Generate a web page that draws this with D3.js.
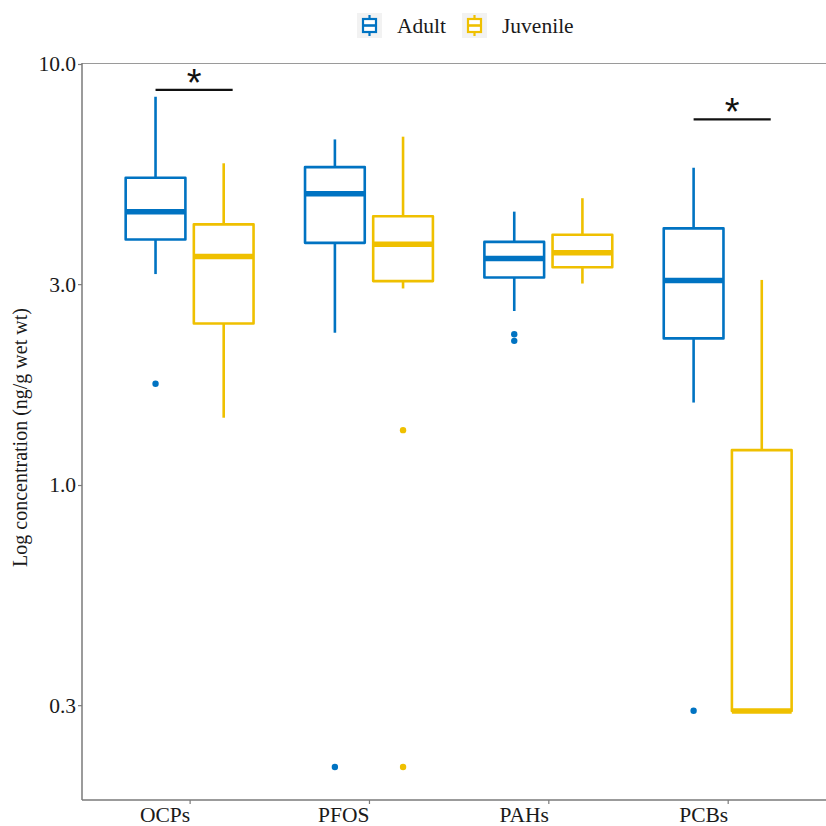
<!DOCTYPE html>
<html>
<head>
<meta charset="utf-8">
<script src="https://cdn.jsdelivr.net/npm/d3@7"></script>
<style>
  html, body { margin: 0; padding: 0; background: #fff; }
  svg { display: block; }
</style>
</head>
<body>
<svg id="chart" width="826" height="826"></svg>
<script>
// ---- data ----
const categories = ["OCPs", "PFOS", "PAHs", "PCBs"];
const groups = ["Adult", "Juvenile"];
const groupColors = ["#0073C2", "#EFC000"];
// box statistics per category: [lowerWhisker, Q1, median, Q3, upperWhisker]
const adultStats = [
  [3.17, 3.83, 4.46, 5.37, 8.36],
  [2.30, 3.76, 4.92, 5.69, 6.62],
  [2.59, 3.11, 3.45, 3.78, 4.46],
  [1.57, 2.23, 3.06, 4.07, 5.67]
];
const juvenileStats = [
  [1.445, 2.42, 3.49, 4.16, 5.81],
  [2.93, 3.05, 3.73, 4.35, 6.72],
  [3.01, 3.29, 3.56, 3.93, 4.80],
  [0.2905, 0.2905, 0.2905, 1.21, 3.07]
];
const adultOutliers = [[1.74], [0.214], [2.28, 2.20], [0.291]];
const juvenileOutliers = [[], [1.35, 0.214], [], []];
const sigCategories = ["OCPs", "PCBs"];
const sigHeights = [8.68, 7.39];
const sigLabels = ["*", "*"];
const yTicks = [0.3, 1.0, 3.0, 10.0];
const yTitle = "Log concentration (ng/g wet wt)";

// ---- layout ----
const svg = d3.select("#chart");
const mLeft = 82, mBottom = 800, mTop = 64, rightEdge = 835.3;
const x = d3.scaleLinear().domain([0.4, categories.length + 0.6]).range([mLeft, rightEdge]);
const y = d3.scaleLog().domain([0.1786, 10]).range([mBottom, mTop]);
const dodge = 0.19, boxW = 0.333;
const font = "'Liberation Serif', 'Times New Roman', serif";
const txt = "#1a1a1a";
const axisCol = "#7a7a7a";

// top border line
svg.append("line").attr("x1", mLeft).attr("x2", 826).attr("y1", mTop - 0.5).attr("y2", mTop - 0.5)
  .attr("stroke", "#9a9a9a").attr("stroke-width", 1.2);

// y axis
const yAxis = d3.axisLeft(y).tickValues(yTicks).tickFormat(d3.format(".1f")).tickSize(4).tickPadding(2);
const gy = svg.append("g").attr("transform", `translate(${mLeft},0)`).call(yAxis);
gy.select(".domain").attr("stroke", axisCol).attr("stroke-width", 1.5).attr("d", `M0,${mTop - 1}V${mBottom}`);
gy.selectAll(".tick line").attr("stroke", axisCol).attr("stroke-width", 1.2);
gy.selectAll(".tick text").attr("font-family", font).attr("font-size", 21.5).attr("fill", txt);

// x axis
const xAxis = d3.axisBottom(x).tickValues(categories.map((c, i) => i + 1))
  .tickFormat((d) => categories[d - 1]).tickSize(4).tickPadding(2);
const gx = svg.append("g").attr("transform", `translate(0,${mBottom})`).call(xAxis);
gx.select(".domain").attr("stroke", axisCol).attr("stroke-width", 1.5).attr("d", `M${mLeft},0H826`);
gx.selectAll(".tick line").attr("stroke", axisCol).attr("stroke-width", 1.2);
gx.selectAll(".tick text").attr("font-family", font).attr("font-size", 21.5).attr("fill", txt)
  .attr("text-anchor", "end").attr("dy", "0.75em");

// y title
svg.append("text").attr("transform", `translate(27,${(265 + 610) / 2}) rotate(-90)`)
  .attr("text-anchor", "middle").attr("font-family", font).attr("font-size", 20).attr("fill", txt)
  .text(yTitle);

// boxes
const allStats = [adultStats, juvenileStats];
const allOut = [adultOutliers, juvenileOutliers];
groups.forEach((g, gi) => {
  const col = groupColors[gi];
  const off = gi === 0 ? -dodge : dodge;
  const layer = svg.append("g");
  allStats[gi].forEach((s, ci) => {
    const cx = x(ci + 1 + off);
    const x0 = x(ci + 1 + off - boxW / 2), x1 = x(ci + 1 + off + boxW / 2);
    const [lo, q1, med, q3, hi] = s;
    layer.append("line").attr("x1", cx).attr("x2", cx).attr("y1", y(hi)).attr("y2", y(q3))
      .attr("stroke", col).attr("stroke-width", 2.6);
    layer.append("line").attr("x1", cx).attr("x2", cx).attr("y1", y(q1)).attr("y2", y(lo))
      .attr("stroke", col).attr("stroke-width", 2.6);
    layer.append("rect").attr("x", x0).attr("y", y(q3)).attr("width", x1 - x0)
      .attr("height", Math.max(0.01, y(q1) - y(q3)))
      .attr("fill", "#fff").attr("stroke", col).attr("stroke-width", 2.6).attr("stroke-linejoin", "round");
    layer.append("line").attr("x1", x0).attr("x2", x1).attr("y1", y(med)).attr("y2", y(med))
      .attr("stroke", col).attr("stroke-width", 5.5);
    allOut[gi][ci].forEach((v) => {
      layer.append("circle").attr("cx", cx).attr("cy", y(v)).attr("r", 3.2).attr("fill", col);
    });
  });
});

// significance bars
sigCategories.forEach((c, i) => {
  const ci = categories.indexOf(c) + 1;
  const yy = y(sigHeights[i]);
  const xa = x(ci - dodge), xb = x(ci + dodge + 0.05);
  svg.append("line").attr("x1", xa).attr("x2", xb).attr("y1", yy).attr("y2", yy)
    .attr("stroke", "#111").attr("stroke-width", 2.2);
  svg.append("text").attr("x", (xa + xb) / 2).attr("y", yy + 6)
    .attr("text-anchor", "middle").attr("font-family", "'Liberation Sans', Arial, sans-serif")
    .attr("font-size", 38).attr("fill", "#111").text(sigLabels[i]);
});

// legend
const legendItems = [
  { label: groups[0], col: groupColors[0], kx: 357, tx: 397 },
  { label: groups[1], col: groupColors[1], kx: 462, tx: 502 }
];
const lg = svg.append("g");
legendItems.forEach((it) => {
  const ky = 13, ks = 25;
  lg.append("rect").attr("x", it.kx).attr("y", ky).attr("width", ks).attr("height", ks).attr("fill", "#f2f2f2");
  const cx = it.kx + ks / 2;
  lg.append("line").attr("x1", cx).attr("x2", cx).attr("y1", ky + 2).attr("y2", ky + ks - 2)
    .attr("stroke", it.col).attr("stroke-width", 2.2);
  lg.append("rect").attr("x", cx - 6.5).attr("y", ky + 6).attr("width", 13).attr("height", 13)
    .attr("fill", "#fff").attr("stroke", it.col).attr("stroke-width", 2.2);
  lg.append("line").attr("x1", cx - 6.5).attr("x2", cx + 6.5).attr("y1", ky + 12.5).attr("y2", ky + 12.5)
    .attr("stroke", it.col).attr("stroke-width", 2.6);
  lg.append("text").attr("x", it.tx).attr("y", 33).attr("font-family", font).attr("font-size", 21.5)
    .attr("fill", txt).text(it.label);
});
</script>
</body>
</html>
